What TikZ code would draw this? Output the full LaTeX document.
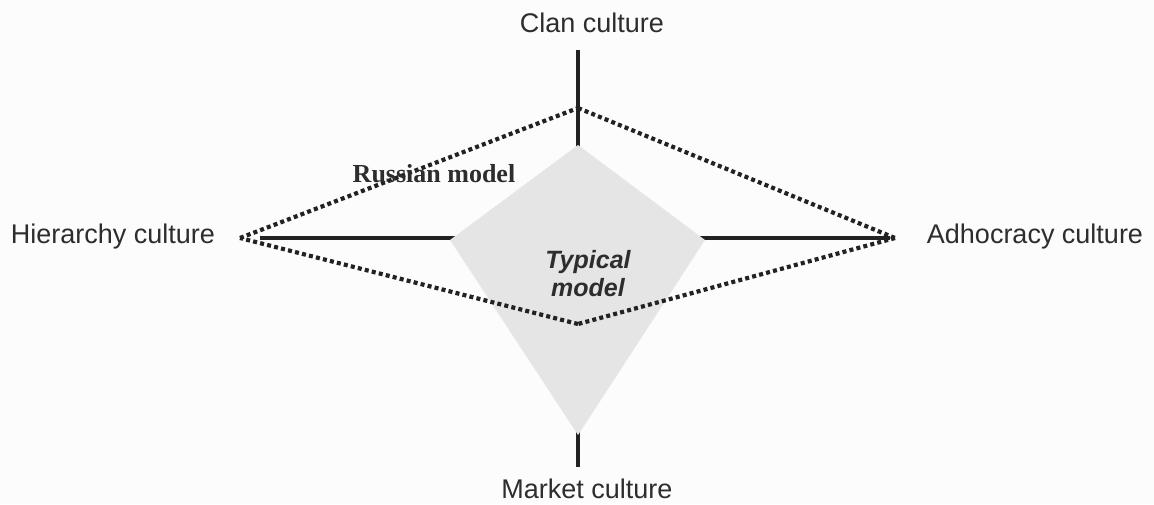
\documentclass[tikz,border=0pt]{standalone}
\usepackage{fontspec}
\setmainfont{Liberation Sans}
\newfontfamily\timesfont{Liberation Serif}
\usepackage{xcolor}
\definecolor{axisgray}{RGB}{34,34,34}
\definecolor{textgray}{RGB}{45,45,45}
\definecolor{shadegray}{RGB}{229,229,229}
\definecolor{paper}{RGB}{252,252,252}
\tikzset{
	culture/.style={font=\fontsize{27}{32}\selectfont,text=textgray,anchor=base,inner sep=0pt},
	dotline/.style={line width=4.2pt,dash pattern=on 4pt off 3.2pt,axisgray}
}

\begin{document}
\begin{tikzpicture}[x=1pt,y=-1pt]
\fill[paper] (0,0) rectangle (1154,504);
\useasboundingbox (0,0) rectangle (1154,504);
% axes
\coordinate (aN) at (578,50);
\coordinate (aS) at (578,467);
\coordinate (aW) at (260,238);
\coordinate (aE) at (890,238);
\draw[axisgray,line width=3.6pt] (aN) -- (aS);
\draw[axisgray,line width=3.6pt] (aW) -- (aE);
% typical model
\coordinate (t1) at (578,145);
\coordinate (t2) at (705,240);
\coordinate (t3) at (578,435);
\coordinate (t4) at (450,240);
\fill[shadegray] (t1) -- (t2) -- (t3) -- (t4) -- cycle;
% russian model
\coordinate (r1) at (578,108);
\coordinate (r2) at (895,238);
\coordinate (r3) at (578,324);
\coordinate (r4) at (240,238);
\foreach \a/\b in {1/2,2/3,3/4,4/1}
{
	\draw[dotline] (r\a) -- (r\b);
}
	\node[culture] (clan) at (592,32) {Clan culture};
	\node[culture] (market) at (587,498) {Market culture};
	\node[culture] (hier) at (113,243) {Hierarchy culture};
	\node[culture] (adho) at (1035,243) {Adhocracy culture};

\node[anchor=base,inner sep=0pt,text=textgray,font=\timesfont\bfseries\fontsize{26}{30}\selectfont] (russian) at (434,182) {Russian model};
\node[align=center,inner sep=0pt,text=textgray,font=\bfseries\itshape\fontsize{25}{28}\selectfont] (typical) at (588,274) {Typical\\model};

\end{tikzpicture}
\end{document}
